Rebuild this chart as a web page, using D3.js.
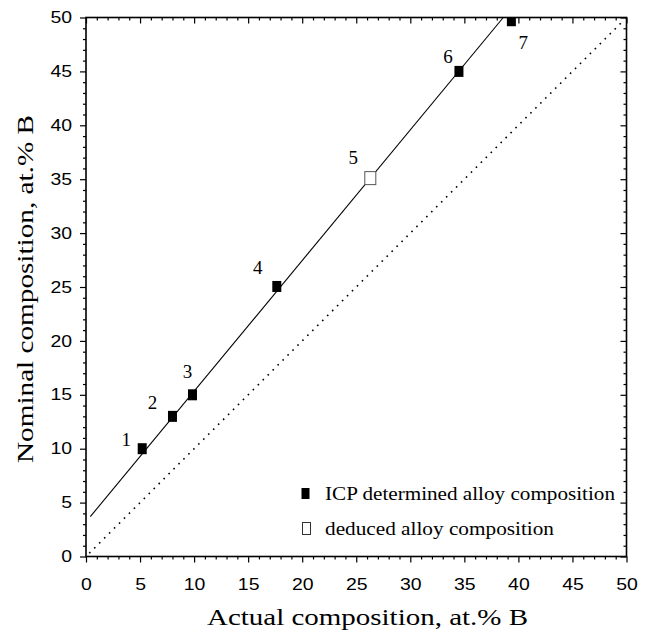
<!DOCTYPE html>
<html>
<head>
<meta charset="utf-8">
<script src="https://cdn.jsdelivr.net/npm/d3@7"></script>
<style>
  body { margin: 0; background: #fff; }
  svg { display: block; }
</style>
</head>
<body>
<svg id="chart" width="650" height="632"></svg>
<script>
// ---- data ----
const pointLabels = ["1", "2", "3", "4", "5", "6", "7"];
const actualComp = [5.2, 8.0, 9.85, 17.65, 26.3, 34.5, 39.35];
const nominalComp = [10, 13, 15, 25.05, 35.1, 45, 49.7];
const pointKind = ["icp", "icp", "icp", "icp", "deduced", "icp", "icp"];
const fitLineX = [0.4, 38.6];
const fitLineY = [3.7, 50];
const identityX = [0.3, 49.5];
const identityY = [0.3, 49.5];
const majorTicks = [0, 5, 10, 15, 20, 25, 30, 35, 40, 45, 50];
const legendLabels = ["ICP determined alloy composition", "deduced alloy composition"];
const legendKinds = ["icp", "deduced"];
const xTitle = "Actual composition, at.% B";
const yTitle = "Nominal composition, at.% B";

// ---- layout ----
const X0 = 86, X1 = 626.5, Y0 = 556.5, Y1 = 17.5;
const svg = d3.select("#chart");
const x = d3.scaleLinear().domain([0, 50]).range([X0, X1]);
const y = d3.scaleLinear().domain([0, 50]).range([Y0, Y1]);
const minorTicks = d3.range(0, 51, 1).filter(v => v % 5 !== 0);
const labelOffsets = [[-16, -9], [-20, -14], [-5, -23], [-19, -19], [-17, -21], [-11, -15], [12, 22]];

svg.append("defs").append("clipPath").attr("id", "plotclip")
  .append("rect").attr("x", X0).attr("y", Y1).attr("width", X1 - X0).attr("height", Y0 - Y1);

// axes
function styleAxis(g, labelled) {
  g.selectAll(".domain").remove();
  g.selectAll(".tick line").attr("stroke", "#000").attr("stroke-width", 1.2);
  if (labelled) {
    g.selectAll(".tick text")
      .attr("font-family", "'Liberation Sans', Arial, sans-serif")
      .attr("font-size", 16).attr("fill", "#000")
      .attr("textLength", d => String(d).length * 10.8)
      .attr("lengthAdjust", "spacingAndGlyphs");
  } else {
    g.selectAll(".tick text").remove();
  }
}
// bottom (outward)
svg.append("g").attr("transform", `translate(0,${Y0})`)
  .call(d3.axisBottom(x).tickValues(majorTicks).tickSize(6).tickPadding(16).tickFormat(d3.format("d")))
  .call(g => styleAxis(g, true));
svg.append("g").attr("transform", `translate(0,${Y0})`)
  .call(d3.axisBottom(x).tickValues(minorTicks).tickSize(3))
  .call(g => styleAxis(g, false));
// left (outward)
svg.append("g").attr("transform", `translate(${X0},0)`)
  .call(d3.axisLeft(y).tickValues(majorTicks).tickSize(6).tickPadding(8).tickFormat(d3.format("d")))
  .call(g => styleAxis(g, true));
svg.append("g").attr("transform", `translate(${X0},0)`)
  .call(d3.axisLeft(y).tickValues(minorTicks).tickSize(3))
  .call(g => styleAxis(g, false));
// top (inward)
svg.append("g").attr("transform", `translate(0,${Y1})`)
  .call(d3.axisBottom(x).tickValues(majorTicks).tickSize(6))
  .call(g => styleAxis(g, false));
svg.append("g").attr("transform", `translate(0,${Y1})`)
  .call(d3.axisBottom(x).tickValues(minorTicks).tickSize(3))
  .call(g => styleAxis(g, false));
// right (inward)
svg.append("g").attr("transform", `translate(${X1},0)`)
  .call(d3.axisLeft(y).tickValues(majorTicks).tickSize(6))
  .call(g => styleAxis(g, false));
svg.append("g").attr("transform", `translate(${X1},0)`)
  .call(d3.axisLeft(y).tickValues(minorTicks).tickSize(3))
  .call(g => styleAxis(g, false));

// frame
svg.append("rect").attr("x", X0).attr("y", Y1).attr("width", X1 - X0).attr("height", Y0 - Y1)
  .attr("fill", "none").attr("stroke", "#000").attr("stroke-width", 1.6);

const plot = svg.append("g").attr("clip-path", "url(#plotclip)");
const line = d3.line().x(d => x(d[0])).y(d => y(d[1]));

// identity dotted line
plot.append("path").datum(d3.zip(identityX, identityY))
  .attr("d", line).attr("fill", "none").attr("stroke", "#000")
  .attr("stroke-width", 1.6).attr("stroke-dasharray", "1.6,5.4");
// fit line
plot.append("path").datum(d3.zip(fitLineX, fitLineY))
  .attr("d", line).attr("fill", "none").attr("stroke", "#000").attr("stroke-width", 1.1);

// markers
function drawMarker(g, kind, cx, cy) {
  if (kind === "icp") {
    g.append("rect").attr("x", cx - 4.5).attr("y", cy - 5.5).attr("width", 9).attr("height", 11)
      .attr("fill", "#000");
  } else {
    g.append("rect").attr("x", cx - 5.5).attr("y", cy - 6.5).attr("width", 11).attr("height", 13)
      .attr("fill", "#fff").attr("stroke", "#555").attr("stroke-width", 1);
  }
}
actualComp.forEach((a, i) => drawMarker(plot, pointKind[i], x(a), y(nominalComp[i])));

// point labels
svg.append("g").selectAll("text").data(pointLabels).join("text")
  .attr("x", (d, i) => x(actualComp[i]) + labelOffsets[i][0])
  .attr("y", (d, i) => y(nominalComp[i]) + labelOffsets[i][1])
  .attr("text-anchor", "middle").attr("dominant-baseline", "central")
  .attr("font-family", "'Liberation Serif', 'Times New Roman', serif")
  .attr("font-size", 19).attr("fill", "#000")
  .text(d => d);

// legend
const legY = [493.5, 528.5];
legendLabels.forEach((lab, i) => {
  const g = svg.append("g");
  if (legendKinds[i] === "icp") {
    g.append("rect").attr("x", 301.5).attr("y", legY[i] - 5.5).attr("width", 8).attr("height", 11).attr("fill", "#000");
  } else {
    g.append("rect").attr("x", 302.5).attr("y", legY[i] - 6).attr("width", 8).attr("height", 12)
      .attr("fill", "#fff").attr("stroke", "#333").attr("stroke-width", 1);
  }
  g.append("text").attr("x", 325).attr("y", legY[i] + 6.5)
    .attr("font-family", "'Liberation Serif', 'Times New Roman', serif")
    .attr("font-size", 19).attr("fill", "#000")
    .attr("textLength", i === 0 ? 290 : 229).attr("lengthAdjust", "spacingAndGlyphs")
    .text(lab);
});

// axis titles
svg.append("text").attr("x", 207).attr("y", 625)
  .attr("font-family", "'Liberation Serif', 'Times New Roman', serif")
  .attr("font-size", 23).attr("fill", "#000")
  .attr("textLength", 321).attr("lengthAdjust", "spacingAndGlyphs")
  .text(xTitle);
svg.append("text").attr("transform", "translate(33,463) rotate(-90)")
  .attr("x", 0).attr("y", 0)
  .attr("font-family", "'Liberation Serif', 'Times New Roman', serif")
  .attr("font-size", 23).attr("fill", "#000")
  .attr("textLength", 348).attr("lengthAdjust", "spacingAndGlyphs")
  .text(yTitle);
</script>
</body>
</html>
